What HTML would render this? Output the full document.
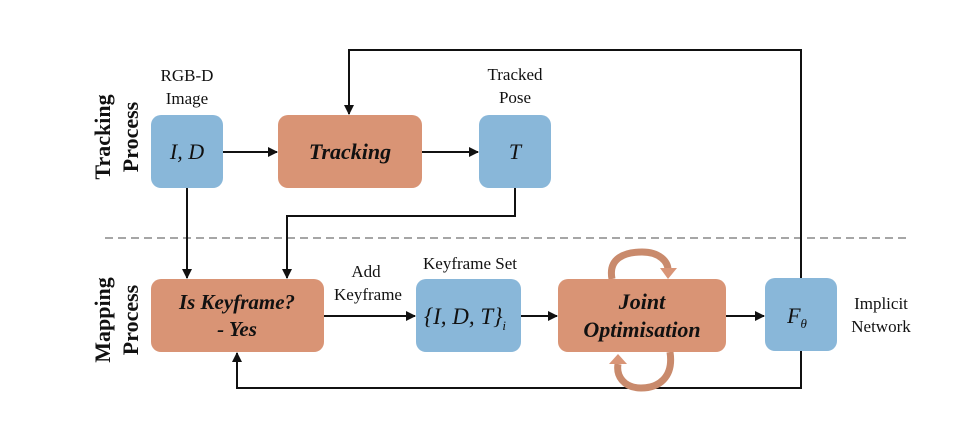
<!DOCTYPE html>
<html><head><meta charset="utf-8"><style>
html,body{margin:0;padding:0;background:#fff}
svg{display:block}
text{font-family:"Liberation Serif",serif}
</style></head><body>
<svg width="964" height="432" viewBox="0 0 964 432" xmlns="http://www.w3.org/2000/svg">
<defs>
<marker id="a" markerWidth="10" markerHeight="10" refX="9" refY="5" orient="auto" markerUnits="userSpaceOnUse">
<path d="M0,0 L10,5 L0,10 z" fill="#111"/></marker>
</defs>
<line x1="105" y1="238" x2="910" y2="238" stroke="#888" stroke-width="1.5" stroke-dasharray="8,5"/>
<g stroke="#111" stroke-width="2" fill="none">
<line x1="223" y1="152" x2="277" y2="152" marker-end="url(#a)"/>
<line x1="422" y1="152" x2="478" y2="152" marker-end="url(#a)"/>
<line x1="187" y1="188" x2="187" y2="278" marker-end="url(#a)"/>
<polyline points="515,188 515,216 287,216 287,278" marker-end="url(#a)"/>
<line x1="324" y1="316" x2="415" y2="316" marker-end="url(#a)"/>
<line x1="521" y1="316" x2="557" y2="316" marker-end="url(#a)"/>
<line x1="726" y1="316" x2="764" y2="316" marker-end="url(#a)"/>
<polyline points="801,278 801,50 349,50 349,114" marker-end="url(#a)"/>
<polyline points="801,351 801,388 237,388 237,353" marker-end="url(#a)"/>
</g>
<path d="M612,279 C608,258 625,252 642,252 C660,252 668,262 668,270" stroke="#c98a6c" stroke-width="7" fill="none"/>
<path d="M660,268 L677,268 L668,279 z" fill="#d99577"/>
<path d="M670,352 C674,378 658,388 641,388 C624,388 616,376 618,364" stroke="#c98a6c" stroke-width="7" fill="none"/>
<path d="M609,364 L627,364 L618,354 z" fill="#d99577"/>
<rect x="151" y="115" width="72" height="73" rx="10" fill="#89b7d9"/>
<rect x="278" y="115" width="144" height="73" rx="10" fill="#d99475"/>
<rect x="479" y="115" width="72" height="73" rx="10" fill="#89b7d9"/>
<rect x="151" y="279" width="173" height="73" rx="10" fill="#d99475"/>
<rect x="416" y="279" width="105" height="73" rx="10" fill="#89b7d9"/>
<rect x="558" y="279" width="168" height="73" rx="10" fill="#d99475"/>
<rect x="765" y="278" width="72" height="73" rx="10" fill="#89b7d9"/>
<g fill="#111" text-anchor="middle">
<text x="187" y="159" font-size="22" font-style="italic">I, D</text>
<text x="350" y="159" font-size="22" font-style="italic" font-weight="bold">Tracking</text>
<text x="515" y="159" font-size="22" font-style="italic">T</text>
<text x="237" y="309" font-size="21" font-style="italic" font-weight="bold">Is Keyframe?</text>
<text x="237" y="336" font-size="21" font-style="italic" font-weight="bold">- Yes</text>
<text x="465" y="324" font-size="23" font-style="italic">{I, D, T}<tspan font-size="13" dy="6">i</tspan></text>
<text x="642" y="309" font-size="22" font-style="italic" font-weight="bold">Joint</text>
<text x="642" y="337" font-size="22" font-style="italic" font-weight="bold">Optimisation</text>
<text x="797" y="323" font-size="22" font-style="italic">F<tspan font-size="13" dy="5">θ</tspan></text>
<text x="187" y="81" font-size="17">RGB-D</text>
<text x="187" y="104" font-size="17">Image</text>
<text x="515" y="80" font-size="17">Tracked</text>
<text x="515" y="103" font-size="17">Pose</text>
<text x="366" y="277" font-size="17">Add</text>
<text x="368" y="300" font-size="17">Keyframe</text>
<text x="470" y="269" font-size="17">Keyframe Set</text>
<text x="881" y="309" font-size="17">Implicit</text>
<text x="881" y="332" font-size="17">Network</text>
<text transform="translate(110,137) rotate(-90)" font-size="22" font-weight="bold">Tracking</text>
<text transform="translate(138,137) rotate(-90)" font-size="22" font-weight="bold">Process</text>
<text transform="translate(110,320) rotate(-90)" font-size="22" font-weight="bold">Mapping</text>
<text transform="translate(138,320) rotate(-90)" font-size="22" font-weight="bold">Process</text>
</g>
</svg>
</body></html>
